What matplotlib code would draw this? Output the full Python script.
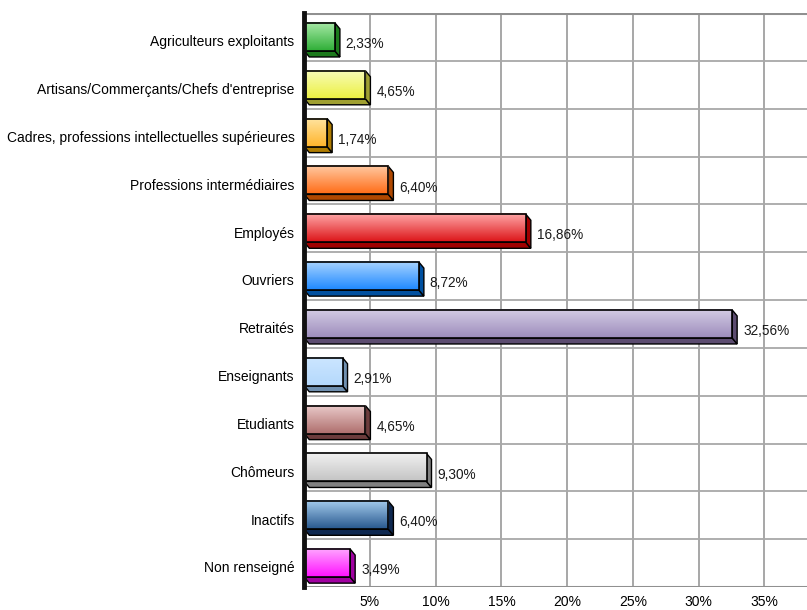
import numpy as np
import matplotlib.pyplot as plt
from matplotlib.patches import Polygon, Rectangle
from matplotlib.colors import to_rgb

plt.rcParams['font.family'] = ['Liberation Sans', 'DejaVu Sans']

# données
categories = ['Agriculteurs exploitants', 'Artisans/Commerçants/Chefs d\'entreprise',
              'Cadres, professions intellectuelles supérieures', 'Professions intermédiaires',
              'Employés', 'Ouvriers', 'Retraités', 'Enseignants', 'Etudiants',
              'Chômeurs', 'Inactifs', 'Non renseigné']
values = [2.33, 4.65, 1.74, 6.40, 16.86, 8.72, 32.56, 2.91, 4.65, 9.30, 6.40, 3.49]
ticks = [5, 10, 15, 20, 25, 30, 35]

# couleurs : haut du dégradé, bas du dégradé, face latérale
top_col = ['#a8eaa8', '#f8fcb8', '#ffe4a0', '#ffcaa4', '#ffa8a8', '#a8d4ff',
           '#d4cce4', '#cce6ff', '#eacaca', '#f2f2f2', '#a4cced', '#ffa8ff']
bot_col = ['#2eae36', '#ecf040', '#ffb42a', '#ff6c16', '#dc1418', '#1e88ff',
           '#9c8cbc', '#b4d8fc', '#ae6e6c', '#c4c4c4', '#28588e', '#ff10ff']
side_col = ['#1c7a1c', '#a0a032', '#b07c00', '#b04800', '#a00000', '#0050a0',
            '#5c4c70', '#7090b0', '#6c3c3c', '#808080', '#0e2850', '#a000a0']

fig = plt.figure(figsize=(8.07, 6.10), dpi=100, facecolor='w')
ax = fig.add_axes([304.3 / 807, 23 / 610, 502.7 / 807, 574 / 610])

xmax = 502.7 / 13.14
n = len(categories)
h = 0.586          # hauteur de la barre
dx = 5 / 13.14     # profondeur 3D en x
dy = 0.126         # profondeur 3D en y

# grille
for t in ticks:
    ax.axvline(t, color='#a0a0a0', lw=1.3, zorder=0)
for i in range(n + 1):
    ax.axhline(i - 0.5, color='#a8a8a8', lw=1.3, zorder=0)
ax.axhline(-0.5, color='#909090', lw=2.2, zorder=0)
ax.axhline(n - 0.5, color='#909090', lw=2.2, zorder=0)

for i, v in enumerate(values):
    y0, y1 = i - h / 2, i + h / 2
    # faces 3D
    ax.add_patch(Polygon([(0, y1), (v, y1), (v + dx, y1 + dy), (dx, y1 + dy)],
                         closed=True, fc=side_col[i], ec='black', lw=1, zorder=2))
    ax.add_patch(Polygon([(v, y0), (v + dx, y0 + dy), (v + dx, y1 + dy), (v, y1)],
                         closed=True, fc=side_col[i], ec='black', lw=1, zorder=2))
    # dégradé de la face avant
    c0, c1 = np.array(to_rgb(top_col[i])), np.array(to_rgb(bot_col[i]))
    t = np.linspace(0, 1, 64)[:, None]
    grad = (c0 * (1 - t) + c1 * t)[:, None, :]
    ax.imshow(grad, extent=(0, v, y1, y0), origin='upper', aspect='auto',
              interpolation='bilinear', zorder=3)
    ax.add_patch(Rectangle((0, y0), v, h, fc='none', ec='black', lw=1.2, zorder=4))
    ax.text(v + dx + 0.45, i + 0.15, f'{v:.2f}'.replace('.', ',') + '%',
            va='center', ha='left', fontsize=9.8, color='#1a1a1a', zorder=5)

ax.set_xlim(0, xmax)
ax.set_ylim(n - 0.5, -0.5)
ax.set_xticks(ticks)
ax.set_xticklabels([f'{t}%' for t in ticks], fontsize=10)
ax.set_yticks(np.arange(n) + 0.08)
ax.set_yticklabels(categories, fontsize=10)
ax.tick_params(length=0, pad=7)
ax.tick_params(axis='x', pad=6)
for s in ['top', 'right', 'bottom']:
    ax.spines[s].set_visible(False)
ax.spines['left'].set_linewidth(3.5)
ax.spines['left'].set_color('#111111')
ax.spines['left'].set_zorder(6)

fig.savefig('out.png', dpi=100, facecolor='w')
